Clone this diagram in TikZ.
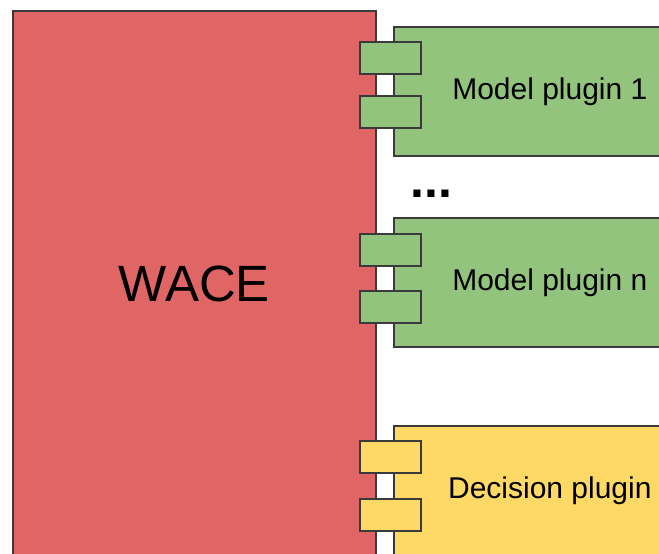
\documentclass[tikz,border=0pt]{standalone}
\usepackage{fontspec}
\setmainfont{Liberation Sans}
\definecolor{wacered}{HTML}{E06666}
\definecolor{plugingreen}{HTML}{93C47D}
\definecolor{pluginyellow}{HTML}{FFD966}
\definecolor{edgegray}{HTML}{3A3A3A}
\begin{document}
\begin{tikzpicture}[x=1pt,y=-1pt,
  box/.style={draw=edgegray, line width=1.7pt, inner sep=0pt, anchor=north west},
  bigbox/.style={box, minimum width=312pt, minimum height=129pt, font=\fontsize{30}{36}\selectfont},
  port/.style={box, minimum width=61pt, minimum height=32pt}
]
\useasboundingbox (0,0) rectangle (659,554);
\node[box, fill=wacered, minimum width=363pt, minimum height=546pt,
      font=\fontsize{51}{60}\selectfont] (wace) at (12,10) {WACE};
% model plugin 1
\node[bigbox, fill=plugingreen] (m1) at (393,26) {\raisebox{-1pt}{Model plugin 1}};
\node[port, fill=plugingreen] (m1a) at (359,41) {};
\node[port, fill=plugingreen] (m1b) at (359,95) {};
% dots
\node[font=\fontsize{50}{60}\selectfont\bfseries, inner sep=0pt, anchor=base west] (dots) at (410,197) {...};
% model plugin n
\node[bigbox, fill=plugingreen] (mn) at (393,217) {\raisebox{-1pt}{Model plugin n}};
\node[port, fill=plugingreen] (mna) at (359,233) {};
\node[port, fill=plugingreen] (mnb) at (359,290) {};
% decision plugin
\node[bigbox, fill=pluginyellow] (dp) at (393,425) {Decision plugin};
\node[port, fill=pluginyellow] (dpa) at (359,440) {};
\node[port, fill=pluginyellow] (dpb) at (359,498) {};
\end{tikzpicture}
\end{document}
